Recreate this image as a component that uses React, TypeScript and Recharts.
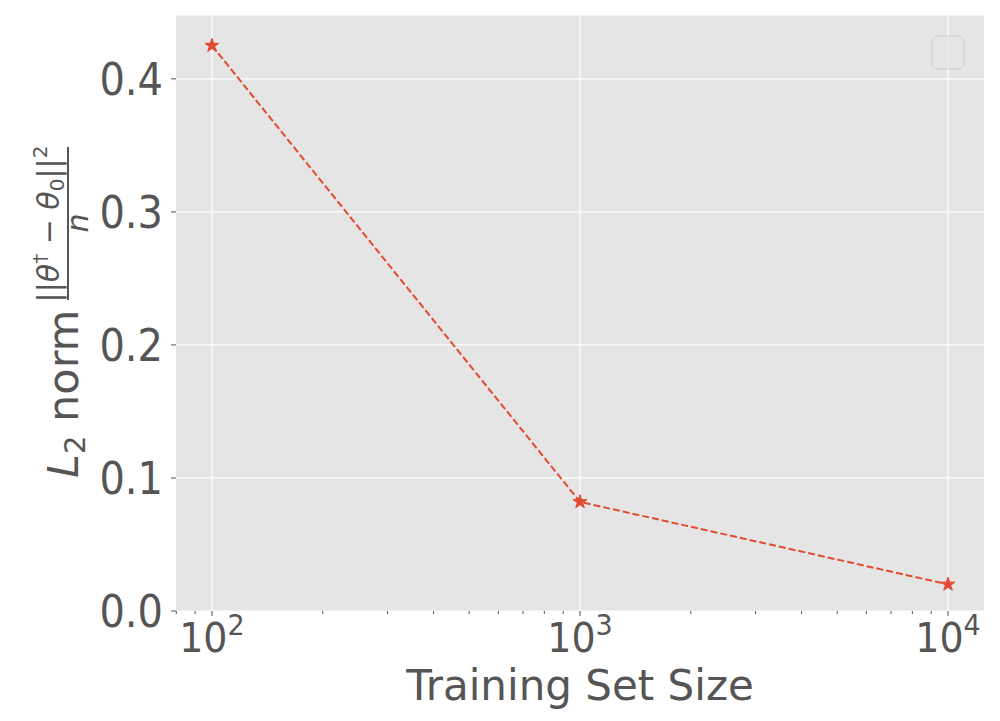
import {
  CartesianGrid,
  Line,
  LineChart,
  ReferenceLine,
  Symbols,
  XAxis,
  YAxis
} from "recharts";

const trainingSizes = [100, 1000, 10000];
const l2Norms = [0.425, 0.082, 0.02];

const yTicks = [0, 0.1, 0.2, 0.3, 0.4];
const majorXTicks = [100, 1000, 10000];
const minorXTicks = [
  80, 90, 200, 300, 400, 500, 600, 700, 800, 900, 2000, 3000, 4000, 5000, 6000,
  7000, 8000, 9000
];
const xExponents: Record<number, string> = { 100: "2", 1000: "3", 10000: "4" };

const chartData = trainingSizes.map((size, i) => ({ size, norm: l2Norms[i] }));

const FONT = "'DejaVu Sans', sans-serif";
const INK = "#555555";
const RED = "#E24A33";

// glyphs in the source image are a little taller than plain DejaVu
function XTick({ x, y, payload }: any) {
  const v = payload.value as number;
  const major = majorXTicks.includes(v);
  return (
    <g>
      <line x1={x} x2={x} y1={y} y2={y + (major ? 5 : 3)} stroke={INK} strokeWidth={1} />
      {major && (
        <g transform={`translate(${x},${y + 41}) scale(1,1.08)`}>
          <text x={0} y={0} textAnchor="middle" fontSize={38} fill={INK} fontFamily={FONT}>
            10
            <tspan fontSize={27} dy={-16}>
              {xExponents[v]}
            </tspan>
          </text>
        </g>
      )}
    </g>
  );
}

function YTick({ x, y, payload }: any) {
  return (
    <g transform={`translate(${x},${y}) scale(1,1.1)`}>
      <text x={0} y={0} dy="0.36em" textAnchor="end" fontSize={40} fill={INK} fontFamily={FONT}>
        {(payload.value as number).toFixed(1)}
      </text>
    </g>
  );
}

function StarDot({ cx, cy, index }: any) {
  return (
    <Symbols key={`star-${index}`} cx={cx} cy={cy} type="star" size={60} fill={RED} stroke={RED} />
  );
}

export default function App() {
  return (
    <div style={{ position: "absolute", left: 0, top: 0, width: 1000, height: 721, background: "#fff" }}>
      <LineChart
        width={1000}
        height={721}
        data={chartData}
        margin={{ top: 15, right: 16, bottom: 0, left: 0 }}
      >
        <CartesianGrid fill="#E5E5E5" stroke="#ffffff" strokeWidth={1.2} vertical={false} />
        {majorXTicks.map((t) => (
          <ReferenceLine key={t} x={t} stroke="#ffffff" strokeWidth={1.2} />
        ))}
        <XAxis
          dataKey="size"
          type="number"
          scale="log"
          domain={[79.85, 12524]}
          allowDataOverflow
          ticks={[...minorXTicks, ...majorXTicks].sort((a, b) => a - b)}
          interval={0}
          height={110}
          axisLine={false}
          tickLine={false}
          tickSize={0}
          tickMargin={0}
          tick={<XTick />}
        />
        <YAxis
          type="number"
          domain={[0, 0.448]}
          allowDataOverflow
          ticks={yTicks}
          width={176}
          axisLine={false}
          tickLine={{ stroke: INK }}
          tickSize={5}
          tickMargin={8}
          tick={<YTick />}
        />
        <Line
          dataKey="norm"
          stroke={RED}
          strokeWidth={2}
          strokeDasharray="7 3"
          dot={<StarDot />}
          activeDot={false}
          isAnimationActive={false}
        />
      </LineChart>
      <svg
        width={1000}
        height={721}
        style={{ position: "absolute", left: 0, top: 0, pointerEvents: "none" }}
      >
        {/* empty legend frame */}
        <rect x={932} y={36} width={32} height={33} rx={6} fill="#E5E5E5" fillOpacity={0.8} stroke="#cccccc" />
        <text x={580} y={700} textAnchor="middle" fontSize={42} fill={INK} fontFamily={FONT}>
          Training Set Size
        </text>
        <g transform="translate(78,478) rotate(-90)" fill={INK} fontFamily={FONT}>
          <text x={0} y={0} fontSize={43}>
            <tspan fontStyle="italic">L</tspan>
            <tspan fontSize={29} dy={7}>2</tspan>
            <tspan dy={-7}> norm</tspan>
          </text>
          <line x1={178} x2={331} y1={-10} y2={-10} stroke={INK} strokeWidth={2} />
          <text x={254} y={-19} textAnchor="middle" fontSize={30}>
            ||<tspan fontStyle="italic">θ</tspan>
            <tspan fontSize={20} dy={-12}>†</tspan>
            <tspan dy={12}> − </tspan>
            <tspan fontStyle="italic">θ</tspan>
            <tspan fontSize={20} dy={5}>0</tspan>
            <tspan dy={-5}>||</tspan>
            <tspan fontSize={20} dy={-12}>2</tspan>
          </text>
          <text x={255} y={10} textAnchor="middle" fontSize={30} fontStyle="italic">
            n
          </text>
        </g>
      </svg>
    </div>
  );
}
